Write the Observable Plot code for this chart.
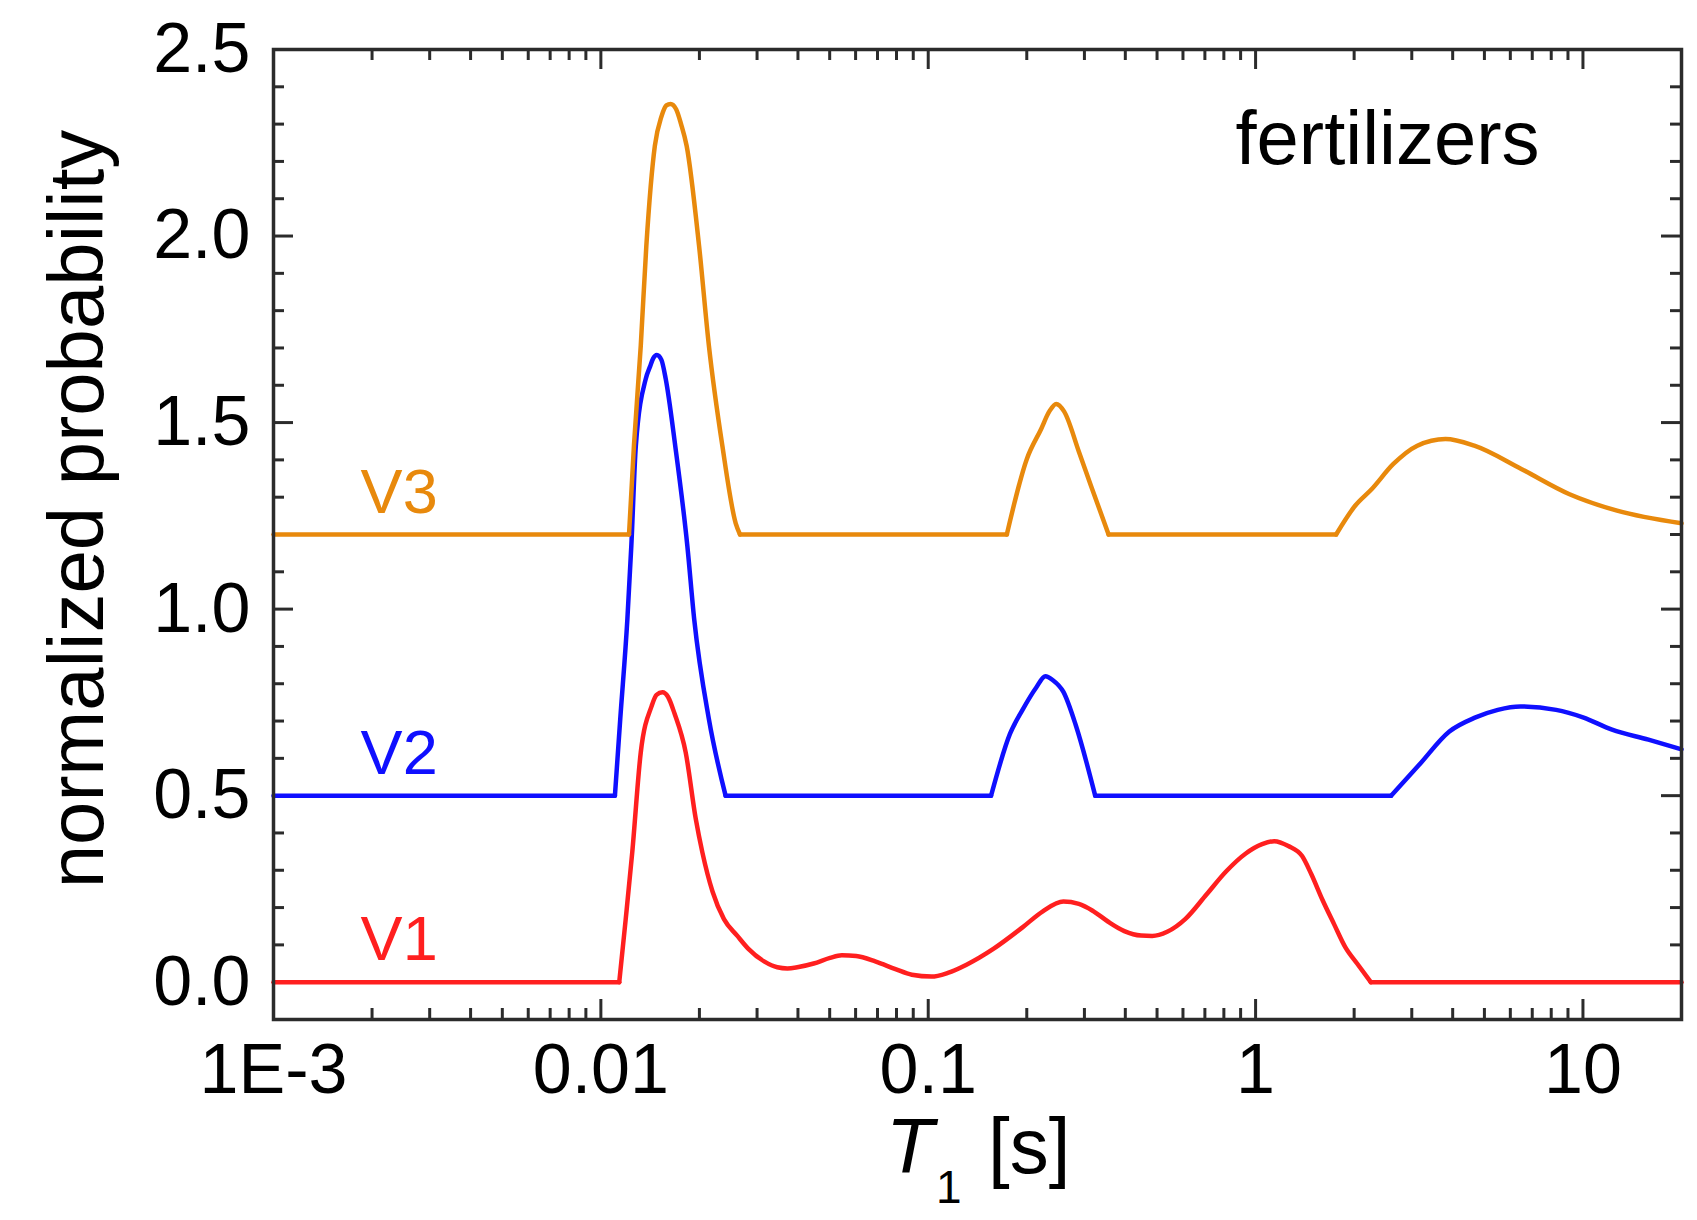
<!DOCTYPE html>
<html>
<head>
<meta charset="utf-8">
<script src="https://cdn.jsdelivr.net/npm/d3@7"></script>
<script src="https://cdn.jsdelivr.net/npm/@observablehq/plot@0.6"></script>
<style>
  body { margin: 0; background: white; }
</style>
</head>
<body>
<div id="chart"></div>
<script>
// T1 [s] and normalized probability, one pair of arrays per sample
const v1T = [0.001, 0.01138, 0.01191, 0.01247, 0.01324, 0.01429, 0.01479, 0.01542, 0.01603, 0.01679,
  0.01816, 0.0195, 0.02042, 0.02193, 0.02377, 0.02612, 0.02818, 0.03162, 0.03459, 0.03715,
  0.03981, 0.04467, 0.05012, 0.05445, 0.06026, 0.06918, 0.07943, 0.08913, 0.1023, 0.1148,
  0.1309, 0.1585, 0.1941, 0.2239, 0.2588, 0.2884, 0.3199, 0.3548, 0.3972, 0.4467,
  0.4831, 0.537, 0.6095, 0.7079, 0.811, 0.9333, 1.047, 1.14, 1.259, 1.387,
  1.479, 1.6, 1.738, 1.879, 2.042, 2.249, 20]
const v1P = [0, 0, 0.169, 0.348, 0.616, 0.74, 0.77, 0.777, 0.765, 0.72,
  0.616, 0.437, 0.348, 0.243, 0.169, 0.124, 0.09, 0.055, 0.04, 0.037,
  0.04, 0.05, 0.065, 0.072, 0.07, 0.055, 0.035, 0.02, 0.015, 0.025,
  0.047, 0.09, 0.147, 0.19, 0.216, 0.21, 0.19, 0.162, 0.137, 0.125,
  0.124, 0.135, 0.169, 0.235, 0.296, 0.345, 0.37, 0.378, 0.365, 0.338,
  0.29, 0.221, 0.155, 0.094, 0.05, 0, 0]

const v2T = [0.001, 0.01104, 0.01146, 0.01205, 0.01239, 0.01279, 0.01371, 0.01413, 0.01445, 0.01483,
  0.01531, 0.01578, 0.01687, 0.01837, 0.01928, 0.02138, 0.02404, 0.1556, 0.1778, 0.1941,
  0.2138, 0.228, 0.2399, 0.2588, 0.2825, 0.3236, 2.594, 3.155, 3.908, 4.677,
  5.495, 6.442, 8.279, 10, 12.27, 15.85, 20]
const v2P = [0.5, 0.5, 0.705, 0.973, 1.17, 1.438, 1.617, 1.65, 1.672, 1.681,
  1.668, 1.617, 1.438, 1.17, 0.973, 0.705, 0.5, 0.5, 0.666, 0.73,
  0.79, 0.82, 0.81, 0.778, 0.688, 0.5, 0.5, 0.582, 0.672, 0.709,
  0.73, 0.739, 0.73, 0.71, 0.677, 0.65, 0.624]

const v3T = [0.001, 0.01219, 0.01262, 0.01324, 0.01377, 0.01462, 0.01531, 0.01585, 0.01633, 0.01698,
  0.01758, 0.01828, 0.01995, 0.02138, 0.0235, 0.02582, 0.02661, 0.1738, 0.2, 0.2213,
  0.2344, 0.246, 0.26, 0.2891, 0.3141, 0.3556, 1.762, 2.014, 2.265, 2.636,
  3.119, 3.802, 4.656, 6.501, 9.099, 12.71, 20]
const v3P = [1.2, 1.2, 1.438, 1.706, 1.974, 2.242, 2.32, 2.35, 2.354, 2.34,
  2.3, 2.242, 1.974, 1.706, 1.438, 1.23, 1.2, 1.2, 1.402, 1.483,
  1.53, 1.55, 1.53, 1.42, 1.331, 1.2, 1.2, 1.277, 1.322, 1.389,
  1.438, 1.456, 1.438, 1.375, 1.308, 1.264, 1.23]

const seriesNames = ['V1', 'V2', 'V3']
const seriesBase = [0, 0.5, 1.2]
const seriesColors = ['#ff1f1f', '#0f0fff', '#e8890c']

const xMajor = [0.001, 0.01, 0.1, 1, 10]
const xLabels = ['1E-3', '0.01', '0.1', '1', '10']
const yMajor = [0, 0.5, 1, 1.5, 2, 2.5]

const xMinor = []
for (const dec of [0.001, 0.01, 0.1, 1, 10]) {
  for (let m = 2; m <= 9; m++) if (dec * m <= 20) xMinor.push(dec * m)
}
xMinor.push(20)
const yMinor = []
for (let k = 1; k <= 25; k++) if (k % 5 !== 0) yMinor.push(k / 10)

// split every series into flat and curved pieces so the smoothing keeps the sharp corners
const rows = []
;[[v1T, v1P], [v2T, v2P], [v3T, v3P]].forEach(([ts, ps], s) => {
  let piece = 0
  let start = 0
  for (let i = 1; i < ts.length; i++) {
    const flat = ps[i] === ps[i - 1]
    const nextFlat = i + 1 < ts.length ? ps[i + 1] === ps[i] : flat
    if (flat !== nextFlat || i === ts.length - 1) {
      for (let j = start; j <= i; j++) rows.push({series: seriesNames[s], piece: seriesNames[s] + piece, t: ts[j], p: ps[j]})
      piece++
      start = i
    }
  }
})
const labelRows = seriesNames.map((name, i) => ({name, base: seriesBase[i]}))

const W = 1697, H = 1220
const mL = 273, mR = 16, mT = 49, mB = 201
const innerW = W - mL - mR, innerH = H - mT - mB
const axisColor = '#2b2b2b'
const bigTick = 20, smallTick = 11

const chart = Plot.plot({
  width: W,
  height: H,
  marginLeft: mL,
  marginRight: mR,
  marginTop: mT,
  marginBottom: mB,
  style: {fontFamily: 'Liberation Sans, Arial, sans-serif', fontSize: '70px', color: 'black', background: 'white'},
  x: {type: 'log', domain: [0.001, 20]},
  y: {domain: [-0.1, 2.5]},
  color: {domain: seriesNames, range: seriesColors},
  marks: [
    // ticks pointing inward on all four sides
    Plot.ruleX(xMajor, {x: d => d, insetTop: innerH - bigTick, stroke: axisColor, strokeWidth: 3}),
    Plot.ruleX(xMinor, {x: d => d, insetTop: innerH - smallTick, stroke: axisColor, strokeWidth: 3}),
    Plot.ruleX(xMajor, {x: d => d, insetBottom: innerH - bigTick, stroke: axisColor, strokeWidth: 3}),
    Plot.ruleX(xMinor, {x: d => d, insetBottom: innerH - smallTick, stroke: axisColor, strokeWidth: 3}),
    Plot.ruleY(yMajor, {y: d => d, insetRight: innerW - bigTick, stroke: axisColor, strokeWidth: 3}),
    Plot.ruleY(yMinor, {y: d => d, insetRight: innerW - smallTick, stroke: axisColor, strokeWidth: 3}),
    Plot.ruleY(yMajor, {y: d => d, insetLeft: innerW - bigTick, stroke: axisColor, strokeWidth: 3}),
    Plot.ruleY(yMinor, {y: d => d, insetLeft: innerW - smallTick, stroke: axisColor, strokeWidth: 3}),
    Plot.axisX(xMajor, {tickSize: 0, tickPadding: 24, label: null, tickFormat: d => xLabels[xMajor.indexOf(d)]}),
    Plot.axisY(yMajor, {tickSize: 0, tickPadding: 23, label: null, tickFormat: d => d.toFixed(1)}),
    Plot.line(rows, {
      x: 't', y: 'p', z: 'piece', stroke: 'series', strokeWidth: 4.5,
      curve: 'monotone-x', strokeLinejoin: 'round'
    }),
    Plot.text(labelRows, {
      x: 0.00242, y: 'base', text: 'name', fill: d => d.name, textAnchor: 'middle',
      lineAnchor: 'bottom', dy: -22, fontSize: 63
    }),
    Plot.text(['fertilizers'], {
      text: d => d, frameAnchor: 'top-right', textAnchor: 'end', lineAnchor: 'bottom',
      dx: -142, dy: 114, fontSize: 76, fill: 'black'
    }),
    Plot.frame({stroke: axisColor, strokeWidth: 3.5})
  ]
})

const svg = d3.select(chart)
svg.append('text')
  .attr('transform', 'translate(103,509) rotate(-90)')
  .attr('text-anchor', 'middle')
  .attr('font-size', 78)
  .attr('fill', 'black')
  .text('normalized probability')

const xl = svg.append('text').attr('font-size', 78).attr('fill', 'black').attr('text-anchor', 'start')
xl.append('tspan').attr('x', 886).attr('y', 1173).attr('font-style', 'italic').text('T')
xl.append('tspan').attr('x', 936).attr('y', 1203).attr('font-size', 46).text('1')
xl.append('tspan').attr('x', 988).attr('y', 1173).text('[s]')

d3.select('#chart').append(() => chart)
</script>
</body>
</html>
